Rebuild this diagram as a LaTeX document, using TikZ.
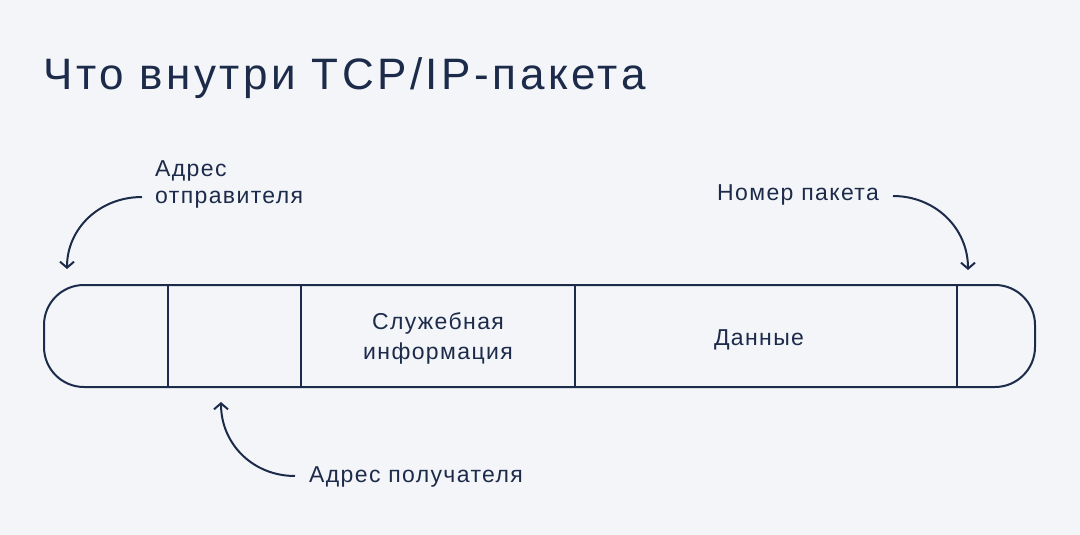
\documentclass[tikz,border=0pt]{standalone}
\usepackage{fontspec}
\setmainfont{Liberation Sans}
\newfontfamily\titlefont[LetterSpace=8]{Liberation Sans}
\newfontfamily\lblfont[LetterSpace=6]{Liberation Sans}
\usetikzlibrary{arrows.meta}
\definecolor{bg}{HTML}{F3F5F8}
\definecolor{navy}{HTML}{1D2B4B}
\begin{document}
\begin{tikzpicture}[x=1pt,y=-1pt,
  lbl/.style={inner sep=0pt,text=navy,font=\lblfont\fontsize{23}{27}\selectfont},
  bar/.style={draw=navy,line width=2pt},
  pointer/.style={draw=navy,line width=2pt,-{Straight Barb[length=6pt,width=14pt]}}]
\fill[bg] (0,0) rectangle (1080,535);
\useasboundingbox (0,0) rectangle (1080,535);
% title
\node[inner sep=0pt,anchor=base west,text=navy,font=\titlefont\fontsize{44}{52}\selectfont] (title) at (43,89) {Что внутри TCP/IP-пакета};
% packet bar
\draw[bar,rounded corners=40pt] (44,285) rectangle (1035,387);
\coordinate (d1t) at (168,285); \coordinate (d1b) at (168,387);
\coordinate (d2t) at (301,285); \coordinate (d2b) at (301,387);
\coordinate (d3t) at (575,285); \coordinate (d3b) at (575,387);
\coordinate (d4t) at (957,285); \coordinate (d4b) at (957,387);
\draw[bar] (d1t) -- (d1b);
\draw[bar] (d2t) -- (d2b);
\draw[bar] (d3t) -- (d3b);
\draw[bar] (d4t) -- (d4b);
% cell texts
\node[lbl,anchor=base] (service1) at (438,329) {Служебная};
\node[lbl,anchor=base] (service2) at (438,359) {информация};
\node[lbl,anchor=base] (data) at (759,345) {Данные};
% labels
\node[lbl,anchor=base west] (sender1) at (155,176) {Адрес};
\node[lbl,anchor=base west] (sender2) at (155,203) {отправителя};
\node[lbl,anchor=base west] (number) at (717,200) {Номер пакета};
\node[lbl,anchor=base west] (receiver) at (309,482) {Адрес получателя};
% arrows
\coordinate (s1) at (142,197); \coordinate (e1) at (67,269);
\coordinate (s2) at (893,196); \coordinate (e2) at (968,270);
\coordinate (s3) at (295,476); \coordinate (e3) at (221,402);
\draw[pointer] (s1) .. controls (100,197) and (67,228) .. (e1);
\draw[pointer] (s2) .. controls (935,196) and (968,228) .. (e2);
\draw[pointer] (s3) .. controls (253,476) and (221,444) .. (e3);
\end{tikzpicture}
\end{document}
